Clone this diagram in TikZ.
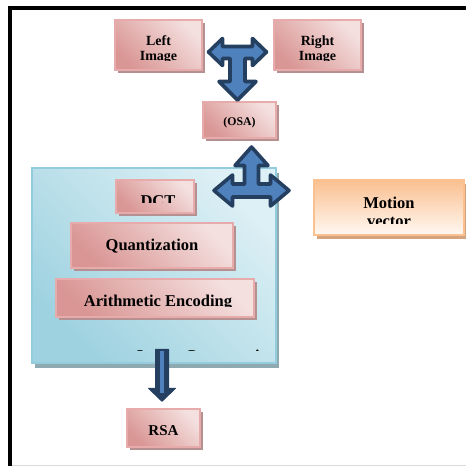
\documentclass[tikz,border=0pt]{standalone}
\usepackage{fontspec}
\setmainfont{Liberation Serif}
\usepackage{tikz}
\usetikzlibrary{shadows, calc}
\definecolor{rosa}{HTML}{D99694}
\definecolor{rosaclaro}{HTML}{F4E0DF}
\definecolor{rosaborde}{HTML}{E6ABAA}
\definecolor{rosasombra}{HTML}{B49090}
\definecolor{celeste}{HTML}{9ED2E0}
\definecolor{celesteclaro}{HTML}{DDF0F5}
\definecolor{celesteborde}{HTML}{93CDDD}
\definecolor{celestesombra}{HTML}{8EA9AF}
\definecolor{naranja}{HTML}{FAC090}
\definecolor{naranjaclaro}{HTML}{FFF8F2}
\definecolor{naranjasombra}{HTML}{D6A47C}
\definecolor{azulflecha}{HTML}{4F81BD}
\definecolor{marino}{HTML}{243F60}
\newcommand{\letrachica}{\fontsize{11.8}{13}\selectfont\bfseries}
\newcommand{\letramedia}{\fontsize{14}{15.3}\selectfont\bfseries}
\newcommand{\letragrande}{\fontsize{16.5}{18.7}\selectfont\bfseries}
\tikzset{
  caja/.style={rectangle, draw=rosaborde, line width=1.5pt, inner sep=0pt,
    left color=rosa, right color=rosaclaro, shading angle=135,
    drop shadow={shadow xshift=3pt, shadow yshift=-3pt, fill=rosasombra, opacity=1}},
  contenedor/.style={rectangle, draw=celesteborde, line width=1.5pt, inner sep=0pt,
    left color=celeste, right color=celesteclaro, shading angle=135,
    drop shadow={shadow xshift=3pt, shadow yshift=-5pt, fill=celestesombra, opacity=1}},
  naranjo/.style={rectangle, draw=naranja, line width=1.5pt, inner sep=0pt,
    top color=naranja, bottom color=naranjaclaro,
    drop shadow={shadow xshift=3pt, shadow yshift=-4pt, fill=naranjasombra, opacity=1}},
  % texto recortado dentro de la caja: margen inferior, desplazamiento, letra, texto
  texto/.style n args={4}{path picture={
      \clip ([yshift=#1]path picture bounding box.south west) rectangle (path picture bounding box.north east);
      \node[anchor=north, inner sep=0pt, minimum width=0pt, minimum height=0pt,
        align=center, font=#3]
        at ([shift={(#2)}]path picture bounding box.north) {#4};}},
  flecha/.style={draw=marino, line width=3.6pt, line join=round, fill=azulflecha}
}

\begin{document}
\begin{tikzpicture}[x=1pt, y=-1pt]
  \useasboundingbox (0,0) rectangle (466,467);

  % --- Marco ---
  \draw[black, line width=4pt] (10.3,466) -- (10.3,7.9) -- (466,7.9);
  \draw[black!15, line width=1pt] (12.3,465.8) -- (466,465.8);

  % --- Imagenes ---
  \node[caja, minimum width=87, minimum height=50,
    texto={10pt}{0,15}{\letramedia}{Left\\Image}] (izq) at (158.5,45) {};
  \node[caja, minimum width=87, minimum height=50,
    texto={10pt}{0,15}{\letramedia}{Right\\Image}] (der) at (317.5,45) {};

  % --- OSA ---
  \node[caja, minimum width=73, minimum height=36,
    texto={0pt}{0,14.2}{\letrachica}{(OSA)}] (osa) at (239.5,120) {};

  % --- Compresion ---
  \node[contenedor, minimum width=244, minimum height=195,
    texto={12.3pt}{53,181}{\letragrande}{Image Compression}] (comp) at (154,265.5) {};
  \node[caja, minimum width=78, minimum height=33,
    texto={10.7pt}{3,15}{\letragrande}{DCT}] (dct) at (155,196.5) {};
  \node[caja, minimum width=162, minimum height=45,
    texto={3pt}{0,15.3}{\letragrande}{Quantization}] (cuant) at (152,245.5) {};
  \node[caja, minimum width=198, minimum height=38,
    texto={10.3pt}{3,15}{\letragrande}{Arithmetic Encoding}] (arit) at (155,298) {};

  % --- Vector de movimiento ---
  \node[naranjo, minimum width=150, minimum height=55,
    texto={12pt}{0,16}{\letragrande}{Motion\\vector}] (mov) at (389,207.5) {};

  % --- RSA ---
  \node[caja, minimum width=73, minimum height=38,
    texto={0pt}{0,16}{\fontsize{15}{16}\selectfont\bfseries}{RSA}] (rsa) at (163.5,428) {};

  % --- Flechas ---
  \coordinate (cruceT) at ($(izq.east)!0.5!(der.west)+(-0.5,7)$);
  \begin{scope}[shift={(cruceT)}]
    \draw[flecha] (-29,0) -- (-15,-13.5) -- (-15,-5.5) -- (15,-5.5) -- (15,-13.5)
      -- (29,0) -- (15,13.5) -- (15,6.5) -- (7.5,6.5) -- (7.5,29.5) -- (18.5,29.5)
      -- (0,48) -- (-18.5,29.5) -- (-7.5,29.5) -- (-7.5,6.5) -- (-15,6.5)
      -- (-15,13.5) -- cycle;
  \end{scope}
  \coordinate (cruz) at (251.5,190.5);
  \begin{scope}[shift={(cruz)}]
    \draw[flecha] (0,-43.5) -- (16.5,-25) -- (7,-25) -- (7,-6.5) -- (19,-6.5)
      -- (19,-15.5) -- (37.5,0) -- (19,15.5) -- (19,6.5) -- (-19,6.5) -- (-19,15.5)
      -- (-37.5,0) -- (-19,-15.5) -- (-19,-6.5) -- (-7,-6.5) -- (-7,-25)
      -- (-16.5,-25) -- cycle;
  \end{scope}
  \coordinate (bajada) at ($(rsa.north)+(-1.5,-59)$);
  \begin{scope}[shift={(bajada)}]
    \draw[marino, fill=marino, line width=1pt, line join=round] (-6.5,0) -- (6.5,0)
      -- (6.5,39) -- (13.5,39) -- (0,52) -- (-13.5,39) -- (-6.5,39) -- cycle;
    \draw[azulflecha, line width=3.5pt] (0,2) -- (0,44);
  \end{scope}

\end{tikzpicture}
\end{document}
